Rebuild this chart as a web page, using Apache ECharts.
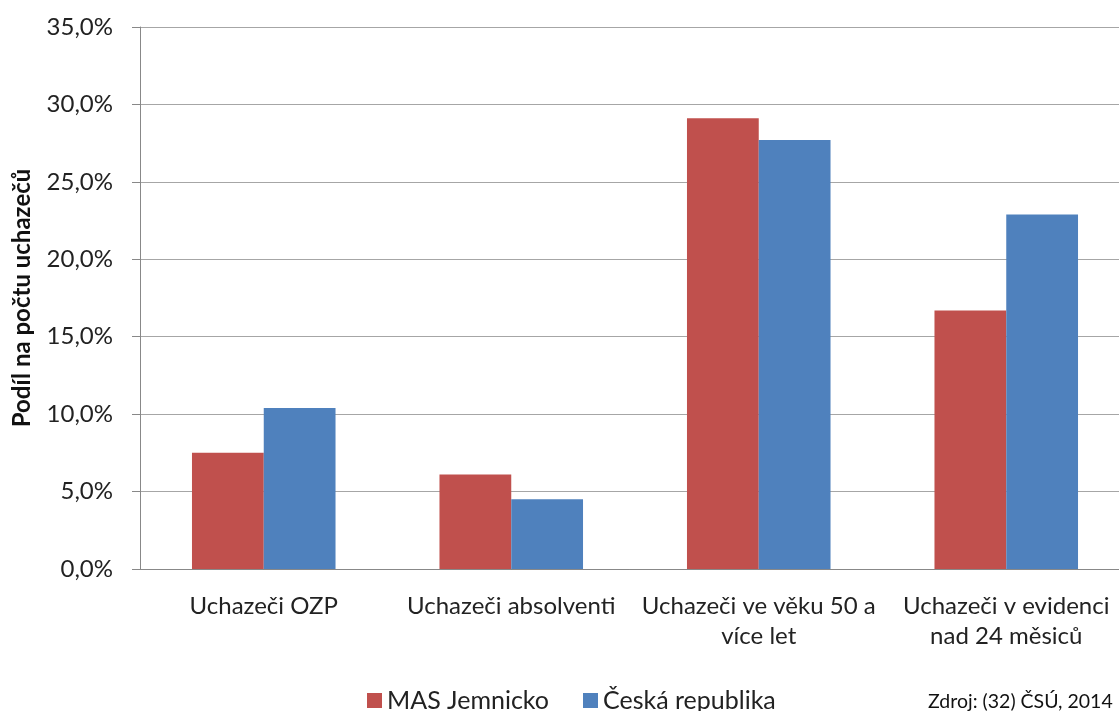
<!DOCTYPE html>
<html>
<head>
<meta charset="utf-8">
<script src="https://cdn.jsdelivr.net/npm/echarts@6/dist/echarts.min.js"></script>
<style>
  html, body { margin: 0; padding: 0; background: #fff; }
  #main { width: 1119px; height: 711px; }
</style>
</head>
<body>
<div id="main"></div>
<script>
// data (percent)
var categories = ['Uchazeči OZP', 'Uchazeči absolventi', 'Uchazeči ve věku 50 a\nvíce let', 'Uchazeči v evidenci\nnad 24 měsiců'];
var masJemnicko = [7.5, 6.1, 29.1, 16.7];
var ceskaRepublika = [10.4, 4.5, 27.7, 22.9];
var yTicks = { min: 0, max: 35, step: 5 };

var font = 'Lato, "Open Sans", sans-serif';
var myChart = echarts.init(document.getElementById('main'));

var option = {
    animation: false,
    textStyle: { fontFamily: font },
    grid: { left: 140, top: 27, width: 990, bottom: 142, outerBoundsMode: 'none', containLabel: false },
    legend: {
        data: ['MAS Jemnicko', 'Česká republika'],
        left: 362, top: 683,
        itemWidth: 15, itemHeight: 15, itemGap: 34,
        icon: 'rect',
        textStyle: { fontFamily: font, fontSize: 25, color: '#222' }
    },
    graphic: [{
        type: 'text', left: 928, top: 692,
        style: { text: 'Zdroj: (32) ČSÚ, 2014', font: '19.5px ' + font, fill: '#111' }
    }],
    xAxis: {
        type: 'category',
        data: categories,
        axisLine: { lineStyle: { color: '#888' } },
        axisTick: { length: 10, lineStyle: { color: '#888' } },
        axisLabel: { interval: 0, fontSize: 24, color: '#222', margin: 22, lineHeight: 30 }
    },
    yAxis: {
        type: 'value',
        min: yTicks.min, max: yTicks.max, interval: yTicks.step,
        name: 'Podíl na počtu uchazečů',
        nameLocation: 'middle', nameGap: 106, nameRotate: 90,
        nameTextStyle: { fontSize: 24, fontWeight: 'bold', color: '#111' },
        axisLine: { show: true, lineStyle: { color: '#888' } },
        axisTick: { show: true, length: 8, lineStyle: { color: '#888' } },
        splitLine: { lineStyle: { color: '#a6a6a6' } },
        axisLabel: {
            fontSize: 24, color: '#222', margin: 27,
            formatter: function (v) { return v.toFixed(1).replace('.', ',') + '%'; }
        }
    },
    series: [{
        name: 'MAS Jemnicko',
        type: 'bar',
        data: masJemnicko,
        barGap: '0%', barCategoryGap: '42%',
        itemStyle: { color: '#c0504d' }
    }, {
        name: 'Česká republika',
        type: 'bar',
        data: ceskaRepublika,
        itemStyle: { color: '#4f81bd' }
    }]
};

myChart.setOption(option);
</script>
</body>
</html>
